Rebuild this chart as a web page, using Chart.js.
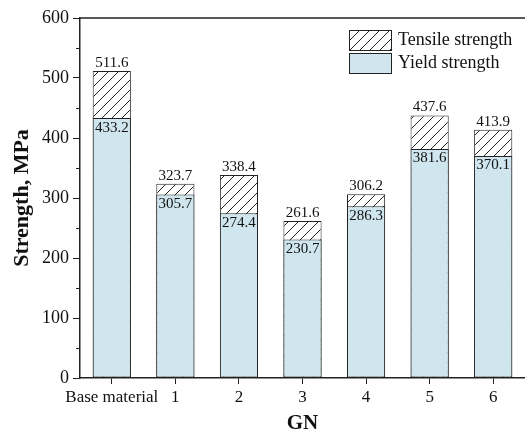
<!DOCTYPE html>
<html>
<head>
<meta charset="utf-8">
<script src="https://cdn.jsdelivr.net/npm/chart.js@4.4.1/dist/chart.umd.min.js"></script>
<style>
  body { margin: 0; background: #fff; }
  #wrap { width: 525px; height: 437px; }
</style>
</head>
<body>
<div id="wrap"><canvas id="chart" width="525" height="437"></canvas></div>
<script>
const categories = ['Base material', '1', '2', '3', '4', '5', '6']
const tensile = [511.6, 323.7, 338.4, 261.6, 306.2, 437.6, 413.9]
const yieldStr = [433.2, 305.7, 274.4, 230.7, 286.3, 381.6, 370.1]
const minorTicks = [50, 150, 250, 350, 450, 550]

const serif = '"Liberation Serif", "Times New Roman", serif'
const blue = '#d0e6ee'
const edge = '#222'

// diagonal hatch for the tensile part
const makeHatch = () => {
    const c = document.createElement('canvas')
    c.width = 10
    c.height = 10
    const g = c.getContext('2d')
    g.fillStyle = '#fff'
    g.fillRect(0, 0, 10, 10)
    g.strokeStyle = '#222'
    g.lineWidth = 1
    g.beginPath()
    g.moveTo(0, 10); g.lineTo(10, 0)
    g.moveTo(-5, 5); g.lineTo(5, -5)
    g.moveTo(5, 15); g.lineTo(15, 5)
    g.stroke()
    return g.createPattern(c, 'repeat')
}
const hatch = makeHatch()

const extras = {
    id: 'extras',
    afterDraw(chart) {
        const ctx = chart.ctx
        const area = chart.chartArea
        const y = chart.scales.y
        ctx.save()
        // top frame line
        ctx.strokeStyle = edge
        ctx.lineWidth = 1.5
        ctx.beginPath()
        ctx.moveTo(area.left, area.top)
        ctx.lineTo(area.right, area.top)
        ctx.stroke()
        // minor ticks
        ctx.lineWidth = 1
        ctx.beginPath()
        for (let v of minorTicks) {
            const py = Math.round(y.getPixelForValue(v)) + 0.5
            ctx.moveTo(area.left - 4, py)
            ctx.lineTo(area.left, py)
        }
        ctx.stroke()

        // value labels
        ctx.fillStyle = '#111'
        ctx.font = '15px ' + serif
        ctx.textAlign = 'center'
        const tMeta = chart.getDatasetMeta(0)
        const yMeta = chart.getDatasetMeta(1)
        tMeta.data.forEach((bar, i) => {
            ctx.textBaseline = 'bottom'
            ctx.fillText(tensile[i].toFixed(1), bar.x, bar.y - 0.5)
        })
        yMeta.data.forEach((bar, i) => {
            ctx.textBaseline = 'top'
            ctx.fillText(yieldStr[i].toFixed(1), bar.x, bar.y + 2)
        })

        // legend
        const items = [['Tensile strength', hatch], ['Yield strength', blue]]
        ctx.font = '18px ' + serif
        ctx.textAlign = 'left'
        ctx.textBaseline = 'middle'
        items.forEach((it, i) => {
            const bx = 349.5, by = 30.5 + i * 23
            ctx.fillStyle = it[1]
            ctx.fillRect(bx, by, 42, 20)
            ctx.strokeStyle = edge
            ctx.strokeRect(bx, by, 42, 20)
            ctx.fillStyle = '#111'
            ctx.fillText(it[0], 398, by + 10)
        })
        ctx.restore()
    }
}

new Chart(document.getElementById('chart'), {
    type: 'bar',
    data: {
        labels: categories,
        datasets: [
            {
                label: 'Tensile strength',
                data: tensile,
                backgroundColor: hatch,
                borderColor: edge,
                borderWidth: 1,
                borderSkipped: false,
                grouped: false,
                order: 1
            },
            {
                label: 'Yield strength',
                data: yieldStr,
                backgroundColor: blue,
                borderColor: edge,
                borderWidth: 1,
                borderSkipped: false,
                grouped: false,
                order: 0
            }
        ]
    },
    options: {
        responsive: false,
        animation: false,
        devicePixelRatio: 1,
        layout: { padding: { top: 18, right: 0, left: 0, bottom: 0 } },
        datasets: { bar: { categoryPercentage: 1, barPercentage: 0.6 } },
        plugins: { legend: { display: false }, tooltip: { enabled: false } },
        scales: {
            x: {
                offset: true,
                grid: { display: true, drawOnChartArea: false, offset: false, tickLength: 6, color: edge, tickColor: edge },
                border: { display: true, color: edge, width: 1.5 },
                ticks: { color: '#111', font: { family: serif, size: 17 }, padding: 3, maxRotation: 0, autoSkip: false },
                title: { display: true, text: 'GN', color: '#111', font: { family: serif, size: 21, weight: 'bold' }, padding: { top: 0, bottom: 1 } },
                afterFit: (s) => { s.height = 59 }
            },
            y: {
                min: 0,
                max: 600,
                ticks: { stepSize: 100, color: '#111', font: { family: serif, size: 18 }, padding: 4 },
                grid: { display: true, drawOnChartArea: false, tickLength: 7, color: edge, tickColor: edge },
                border: { display: true, color: edge, width: 1.5 },
                title: { display: true, text: 'Strength, MPa', color: '#111', font: { family: serif, size: 22, weight: 'bold' }, padding: { top: 9, bottom: 0 } },
                afterFit: (s) => { s.width = 80 }
            }
        }
    },
    plugins: [extras]
})
</script>
</body>
</html>
